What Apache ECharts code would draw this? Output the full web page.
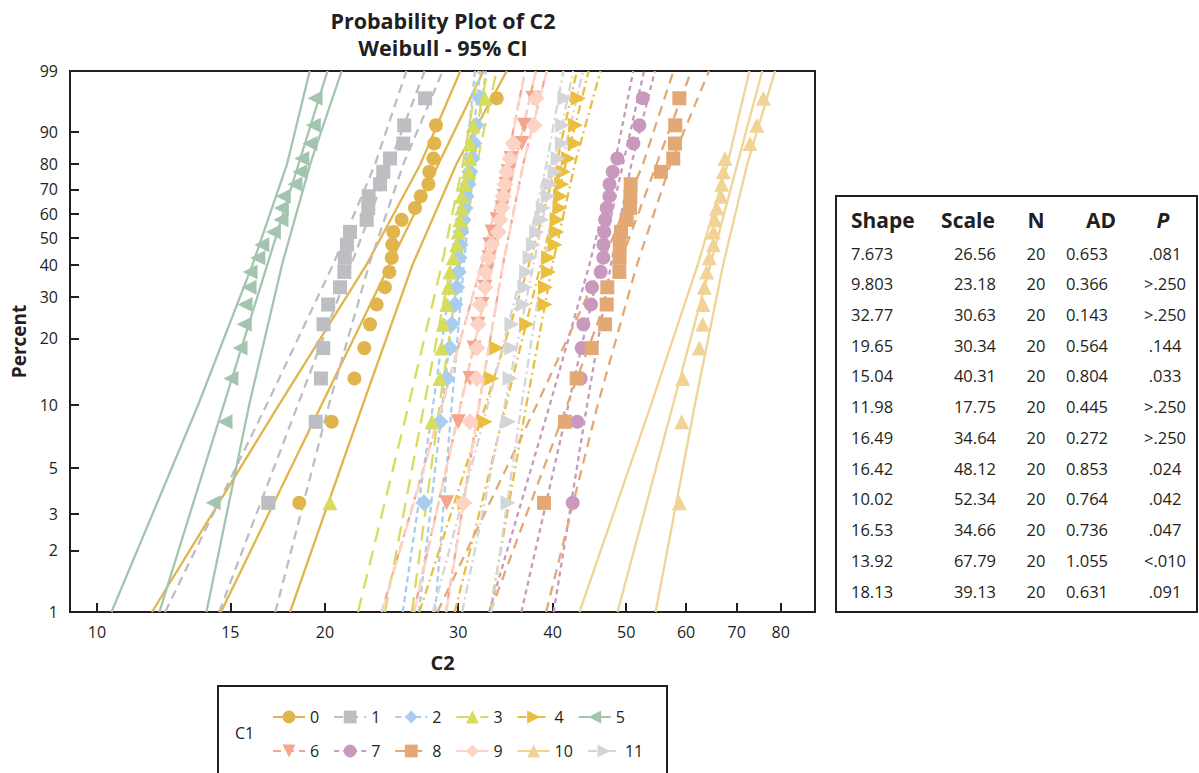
<!DOCTYPE html>
<html><head><meta charset="utf-8">
<script src="https://cdn.jsdelivr.net/npm/echarts@6/dist/echarts.min.js"></script>
<style>html,body{margin:0;padding:0;background:#fff}#c{width:1199px;height:773px}</style>
</head><body><div id="c"></div>
<script>
// ---------- DATA ----------
const groups = ['0','1','2','3','4','5','6','7','8','9','10','11'];
const rankPct = [3.4, 8.3, 13.2, 18.1, 23.0, 27.9, 32.8, 37.7, 42.6, 47.5, 52.5, 57.4, 62.3, 67.2, 72.1, 77.0, 81.9, 86.8, 91.7, 96.6];

const g0 = [18.50, 20.42, 21.88, 22.55, 22.94, 23.41, 24.01, 24.33, 24.51, 24.55, 24.63, 25.26, 26.31, 26.77, 27.40, 27.48, 27.82, 27.90, 28.04, 33.73];
const g1 = [16.84, 19.45, 19.76, 19.90, 19.92, 20.20, 20.94, 21.22, 21.25, 21.39, 21.59, 22.71, 22.82, 22.85, 23.65, 23.89, 24.38, 25.39, 25.46, 27.13];
const g2 = [27.04, 28.38, 28.97, 29.26, 29.42, 29.71, 29.87, 30.01, 30.08, 30.16, 30.25, 30.44, 30.63, 30.73, 30.92, 31.09, 31.30, 31.48, 31.68, 32.06];
const g3 = [20.31, 27.70, 28.38, 28.53, 28.67, 28.97, 29.11, 29.26, 29.56, 29.87, 30.01, 30.16, 30.32, 30.33, 30.63, 30.94, 31.09, 31.10, 31.41, 32.55];
const g4 = [30.63, 32.55, 33.22, 33.73, 36.95, 39.07, 39.13, 39.47, 39.50, 40.27, 40.49, 40.53, 40.89, 40.95, 41.11, 41.31, 41.94, 42.80, 42.87, 43.23];
const g5 = [14.24, 14.76, 15.03, 15.45, 15.65, 15.69, 15.88, 15.93, 16.31, 16.51, 17.10, 17.50, 17.52, 17.62, 18.26, 18.54, 18.64, 19.11, 19.31, 19.41];
const g6 = [28.97, 30.01, 31.09, 31.48, 31.86, 32.26, 32.55, 32.75, 32.95, 33.05, 33.25, 33.76, 34.28, 34.49, 34.70, 34.91, 35.23, 36.39, 36.69, 37.67];
const g7 = [42.50, 43.10, 43.55, 43.68, 43.90, 44.93, 45.07, 46.28, 46.65, 46.68, 46.79, 46.90, 47.13, 47.51, 47.54, 48.00, 48.68, 51.11, 52.05, 52.59];
const g8 = [38.95, 41.51, 43.02, 45.03, 46.90, 47.13, 47.22, 48.98, 49.01, 49.04, 49.23, 50.09, 50.60, 50.65, 50.70, 55.60, 57.71, 58.01, 58.06, 58.78];
const g9 = [30.47, 31.09, 31.74, 31.76, 31.89, 32.06, 32.55, 32.57, 32.88, 33.22, 33.89, 34.07, 34.28, 34.41, 34.59, 34.77, 35.12, 35.47, 37.78, 38.01];
const g10 = [58.78, 59.21, 59.39, 62.47, 63.11, 63.17, 63.42, 63.89, 64.40, 65.18, 65.21, 65.52, 65.86, 66.73, 66.87, 67.20, 67.55, 72.88, 74.39, 75.90];
const g11 = [34.91, 34.96, 35.12, 35.30, 35.33, 36.57, 36.76, 36.95, 37.33, 37.71, 38.09, 38.68, 38.87, 39.47, 39.67, 40.27, 40.65, 41.18, 41.21, 41.51];

// fitted lines (C2 at 1% and 99%)
const fitLevels = [1, 99];
const fit0 = [14.58, 32.41], fit1 = [14.50, 27.09], fit2 = [26.62, 32.09], fit3 = [24.01, 32.79];
const fit4 = [29.69, 44.62], fit5 = [12.09, 20.16], fit6 = [26.21, 38.00], fit7 = [36.36, 52.81];
const fit8 = [33.07, 60.96], fit9 = [26.24, 38.01], fit10 = [48.71, 75.65], fit11 = [30.36, 42.57];

// 95% CI bands (C2 at these percents)
const ciLevels = [1, 10, 40, 80, 99];
const lo0 = [11.82, 17.40, 22.68, 26.76, 30.20], hi0 = [17.99, 22.45, 26.10, 29.85, 34.78];
const lo1 = [12.30, 16.76, 20.49, 23.31, 25.63], hi1 = [17.20, 20.25, 22.87, 25.40, 28.62];
const lo2 = [25.34, 27.80, 29.52, 30.68, 31.57], hi2 = [27.96, 29.42, 30.51, 31.48, 32.63];
const lo3 = [22.12, 25.81, 28.53, 30.43, 31.90], hi3 = [26.06, 28.36, 30.13, 31.75, 33.71];
const lo4 = [26.67, 32.63, 37.19, 40.46, 43.04], hi4 = [33.04, 36.92, 39.95, 42.78, 46.25];
const lo5 = [10.45, 13.61, 16.04, 17.83, 19.10], hi5 = [13.95, 15.89, 17.55, 19.13, 21.05];
const lo6 = [23.77, 28.57, 32.19, 34.76, 36.77], hi6 = [28.90, 31.97, 34.36, 36.57, 39.27];
const lo7 = [32.96, 39.65, 44.70, 48.29, 51.10], hi7 = [40.11, 44.40, 47.73, 50.82, 54.58];
const lo8 = [28.16, 38.12, 46.39, 52.64, 57.75], hi8 = [39.20, 45.87, 51.65, 57.23, 64.34];
const lo9 = [23.80, 28.60, 32.21, 34.78, 36.79], hi9 = [28.93, 31.99, 34.38, 36.59, 39.28];
const lo10 = [43.39, 53.95, 62.15, 68.07, 72.76], hi10 = [54.69, 61.64, 67.14, 72.29, 78.65];
const lo11 = [27.78, 32.84, 36.60, 39.25, 41.32], hi11 = [33.18, 36.38, 38.84, 41.11, 43.86];

// axis ticks
const xTicks = [10, 15, 20, 30, 40, 50, 60, 70, 80];
const yTicks = [1, 2, 3, 5, 10, 20, 30, 40, 50, 60, 70, 80, 90, 99];

// table
const tblShape = ['7.673', '9.803', '32.77', '19.65', '15.04', '11.98', '16.49', '16.42', '10.02', '16.53', '13.92', '18.13'];
const tblScale = ['26.56', '23.18', '30.63', '30.34', '40.31', '17.75', '34.64', '48.12', '52.34', '34.66', '67.79', '39.13'];
const tblN = ['20', '20', '20', '20', '20', '20', '20', '20', '20', '20', '20', '20'];
const tblAD = ['0.653', '0.366', '0.143', '0.564', '0.804', '0.445', '0.272', '0.853', '0.764', '0.736', '1.055', '0.631'];
const tblP = ['.081', '>.250', '>.250', '.144', '.033', '>.250', '>.250', '.024', '.042', '.047', '<.010', '.091'];

// ---------- STYLE ----------
const RIGHT = 'path://M0,0L10,5L0,10Z';
const LEFT = 'path://M10,0L0,5L10,10Z';
const DOWN = 'path://M0,0L10,0L5,10Z';
const styles = [
  {color:'#E1B54B', dash:'solid', symbol:'circle', size:14},
  {color:'#BDBEC2', dash:[9,6], symbol:'rect', size:14},
  {color:'#A9CDEE', dash:[6,4], symbol:'diamond', size:17},
  {color:'#D5DC5E', dash:[15,9], symbol:'triangle', size:15},
  {color:'#EBBE3E', dash:[9,4,2,4], symbol:RIGHT, size:15},
  {color:'#A3C5B0', dash:'solid', symbol:LEFT, size:15},
  {color:'#F5A58D', dash:[8,5], symbol:DOWN, size:15},
  {color:'#C899BD', dash:[5,4], symbol:'circle', size:14},
  {color:'#E3A874', dash:[10,7], symbol:'rect', size:14},
  {color:'#FCD3C4', dash:[14,6], symbol:'diamond', size:17},
  {color:'#F1D495', dash:'solid', symbol:'triangle', size:15},
  {color:'#D4D5D8', dash:[9,4,2,4], symbol:RIGHT, size:15}
];
const FONT = '"Open Sans", "Noto Sans", sans-serif';
const INK = '#231F20';

const gData = [g0,g1,g2,g3,g4,g5,g6,g7,g8,g9,g10,g11];
const fits = [fit0,fit1,fit2,fit3,fit4,fit5,fit6,fit7,fit8,fit9,fit10,fit11];
const los = [lo0,lo1,lo2,lo3,lo4,lo5,lo6,lo7,lo8,lo9,lo10,lo11];
const his = [hi0,hi1,hi2,hi3,hi4,hi5,hi6,hi7,hi8,hi9,hi10,hi11];

const lx = v => Math.log10(v);
const wp = p => Math.log(-Math.log(1 - p / 100));

const series = [];
groups.forEach((g, i) => {
  const s = styles[i];
  const lineBase = {
    name: g, type: 'line', showSymbol: false, symbol: s.symbol, symbolSize: s.size,
    lineStyle: {color: s.color, width: 2.3, type: s.dash},
    itemStyle: {color: s.color}, z: 2, silent: true, animation: false
  };
  series.push(Object.assign({}, lineBase, {data: fitLevels.map((p, k) => [lx(fits[i][k]), wp(p)])}));
  series.push(Object.assign({}, lineBase, {data: ciLevels.map((p, k) => [lx(los[i][k]), wp(p)])}));
  series.push(Object.assign({}, lineBase, {data: ciLevels.map((p, k) => [lx(his[i][k]), wp(p)])}));
  series.push({
    name: g, type: 'scatter', symbol: s.symbol, symbolSize: s.size,
    itemStyle: {color: s.color, opacity: 1}, z: 3, silent: true, animation: false,
    data: gData[i].map((v, k) => [lx(v), wp(rankPct[k])])
  });
});

// graphics: title, table, legend frame
const graphics = [];
graphics.push({type:'text', x:443, y:20, style:{text:'Probability Plot of C2', fontSize:21.5, fontWeight:'bold', fontFamily:FONT, fill:INK, textAlign:'center', textVerticalAlign:'middle'}});
graphics.push({type:'text', x:443, y:47, style:{text:'Weibull - 95% CI', fontSize:21.5, fontWeight:'bold', fontFamily:FONT, fill:INK, textAlign:'center', textVerticalAlign:'middle'}});
graphics.push({type:'rect', shape:{x:836, y:196, width:361, height:416}, style:{fill:'none', stroke:INK, lineWidth:2}});
const hdr = [['Shape', 851, 'left', 'normal'], ['Scale', 968, 'center', 'normal'], ['N', 1036, 'center', 'normal'], ['AD', 1101, 'center', 'normal'], ['P', 1163, 'center', 'italic']];
hdr.forEach(h => graphics.push({type:'text', x:h[1], y:220, style:{text:h[0], fontSize:21, fontWeight:'bold', fontStyle:h[3], fontFamily:FONT, fill:INK, textAlign:h[2], textVerticalAlign:'middle'}}));
const cols = [[tblShape, 851, 'left'], [tblScale, 996, 'right'], [tblN, 1036, 'center'], [tblAD, 1108, 'right'], [tblP, 1165, 'center']];
for (let r = 0; r < 12; r++) {
  const y = 253 + r * 30.73;
  cols.forEach(c => graphics.push({type:'text', x:c[1], y:y, style:{text:c[0][r], fontSize:16.5, fontFamily:FONT, fill:INK, textAlign:c[2], textVerticalAlign:'middle'}}));
}
graphics.push({type:'rect', shape:{x:218, y:686, width:449, height:92}, style:{fill:'none', stroke:INK, lineWidth:2}});
graphics.push({type:'text', x:235, y:733, style:{text:'C1', fontSize:16, fontFamily:FONT, fill:INK, textAlign:'left', textVerticalAlign:'middle'}});

const legendBase = {
  orient:'horizontal', itemWidth:32, itemHeight:16, itemGap:14, padding:0, selectedMode:false,
  textStyle:{fontSize:16, color:INK, fontFamily:FONT, width:16, overflow:'none'}
};

const chart = echarts.init(document.getElementById('c'), null, {renderer:'svg'});
chart.setOption({
  animation: false,
  backgroundColor: '#fff',
  textStyle: {fontFamily: FONT},
  grid: {left:70, right:384, top:71, bottom:161, show:true, borderColor:INK, borderWidth:2,
         backgroundColor:'transparent', containLabel:false, outerBoundsMode:'none'},
  xAxis: {
    type:'value', min:0.96433, max:1.94848,
    name:'C2', nameLocation:'middle', nameGap:40,
    nameTextStyle:{fontSize:20, fontWeight:'bold', color:INK, fontFamily:FONT},
    axisLine:{show:false, onZero:false},
    axisTick:{show:true, inside:true, length:9, customValues:xTicks.map(lx), lineStyle:{color:INK, width:2}},
    axisLabel:{show:true, customValues:xTicks.map(lx), margin:12, fontSize:16, color:INK, fontFamily:FONT,
      formatter: v => String(Math.round(Math.pow(10, v)))},
    splitLine:{show:false}
  },
  yAxis: {
    type:'value', min:wp(1), max:wp(99),
    name:'Percent', nameLocation:'middle', nameGap:41, nameRotate:90,
    nameTextStyle:{fontSize:19, fontWeight:'bold', color:INK, fontFamily:FONT},
    axisLine:{show:false, onZero:false},
    axisTick:{show:true, inside:true, length:9, customValues:yTicks.map(wp), lineStyle:{color:INK, width:2}},
    axisLabel:{show:true, customValues:yTicks.map(wp), margin:12, fontSize:16, color:INK, fontFamily:FONT,
      formatter: v => String(Math.round((1 - Math.exp(-Math.exp(v))) * 100))},
    splitLine:{show:false}
  },
  legend: [
    Object.assign({}, legendBase, {data: groups.slice(0, 6), left:272, top:709}),
    Object.assign({}, legendBase, {data: groups.slice(6), left:272, top:743})
  ],
  graphic: graphics,
  series: series
});
</script>
</body></html>
